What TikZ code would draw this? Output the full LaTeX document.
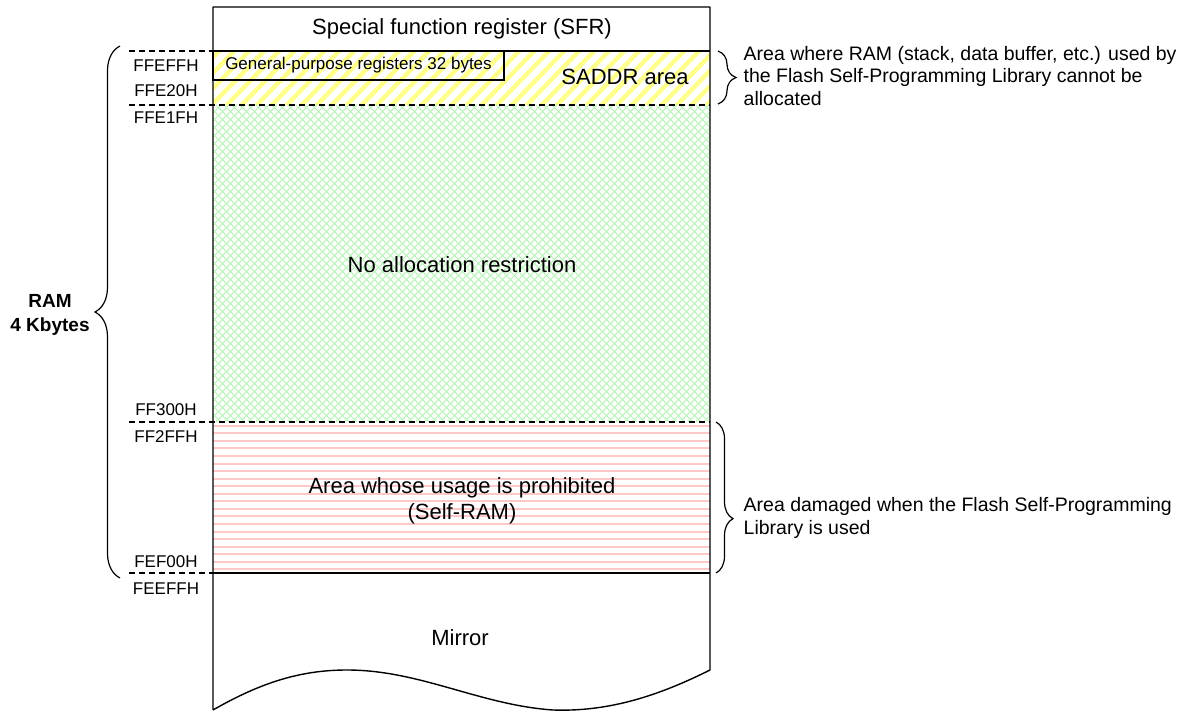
\documentclass[tikz,border=0pt]{standalone}
\usepackage{fontspec}
\setmainfont{Liberation Sans}
\usetikzlibrary{decorations.pathreplacing}
\definecolor{saddryellow}{RGB}{255,255,140}
\definecolor{freegreen}{RGB}{175,245,175}
\definecolor{selfred}{RGB}{255,200,200}
\tikzset{
  boundary/.style={dash pattern=on 6pt off 4pt, line width=1.3pt},
  addr/.style={font=\fontsize{17}{19}\selectfont, inner sep=0pt},
  region/.style={font=\fontsize{22}{26}\selectfont, align=center, inner sep=0pt},
  note/.style={font=\fontsize{19.5}{22.5}\selectfont, align=left, anchor=west, inner sep=0pt},
  bracket/.style={decorate, line width=1.2pt},
}

\begin{document}
\begin{tikzpicture}[x=1pt, y=-1pt, line width=1.4pt]
  \useasboundingbox (0,0) rectangle (1189,711);
  % hatching of the three RAM areas
  \begin{scope}
    \clip (213,51) rectangle (710,105);
    \foreach \i in {130,145,...,715}
      \draw[saddryellow, line width=4.5pt] (\i,112) -- (\i+66,44);
  \end{scope}
  \begin{scope}
    \clip (213,105) rectangle (710,422);
    \foreach \i in {-104,-96,...,712}
      \draw[freegreen, line width=0.9pt] (\i,105) -- (\i+317,422);
    \foreach \i in {213,221,...,1030}
      \draw[freegreen, line width=0.9pt] (\i,105) -- (\i-317,422);
  \end{scope}
  \foreach \y in {425.8,433.35,...,572}
    \draw[selfred, line width=2pt] (213,\y) -- (710,\y);

  % memory map outline
  \draw[line join=round] (213,710) -- (213,7) -- (710,7) -- (710,670)
    .. controls (660,695) and (610,712) .. (553,710)
    .. controls (480,705) and (420,670) .. (347,670)
    .. controls (300,670) and (260,683) .. (213,710);
  \draw (213,51) -- (710,51);
  \draw (213,573) -- (710,573);
  \draw[boundary] (129,51) -- (213,51);
  \draw[boundary] (129,105) -- (710,105);
  \draw[boundary] (129,422) -- (710,422);
  \draw[boundary] (129,573) -- (213,573);

  \node[region] (sfr) at (462,29) {Special function register (SFR)};
  \node[draw, line width=1.3pt, minimum width=291pt, minimum height=29pt, inner sep=0pt,
    font=\fontsize{17}{19}\selectfont] (gpr) at (358.5,65.5) {General-purpose registers 32 bytes};
  \node[region] (saddr) at (625,77) {SADDR area};
  \node[region] (free) at (462,265) {No allocation restriction};
  \node[region] (selfram) at (462,501) {Area whose usage is prohibited\\(Self-RAM)};
  \node[region] (mirror) at (460,638) {Mirror};

  % addresses
  \node[addr] (a1) at (166,66) {FFEFFH};
  \node[addr] (a2) at (166,91) {FFE20H};
  \node[addr] (a3) at (166,118) {FFE1FH};
  \node[addr] (a4) at (166,410) {FF300H};
  \node[addr] (a5) at (166,437) {FF2FFH};
  \node[addr] (a6) at (166,562) {FEF00H};
  \node[addr] (a7) at (166,589) {FEEFFH};

  \node[font=\bfseries\fontsize{19}{24}\selectfont, align=center, inner sep=0pt] (ram) at (50,315) {RAM\\4 Kbytes};
  \node[note] (saddrnote) at (743,76) {Area where RAM (stack, data buffer, etc.) used by\\the Flash Self-Programming Library cannot be\\allocated};
  \node[note] (selfnote) at (743,518) {Area damaged when the Flash Self-Programming\\Library is used};

  % braces
  \coordinate (ramtop) at (120,46);
  \coordinate (rambot) at (120,578);
  \coordinate (saddrtop) at (718,51);
  \coordinate (saddrbot) at (718,104);
  \coordinate (selftop) at (716,422);
  \coordinate (selfbot) at (716,573);
  \draw[bracket, decoration={brace, amplitude=25pt}] (rambot) -- (ramtop);
  \draw[bracket, decoration={brace, amplitude=18pt}] (saddrtop) -- (saddrbot);
  \draw[bracket, decoration={brace, amplitude=17pt, aspect=0.64}] (selftop) -- (selfbot);
\end{tikzpicture}
\end{document}
